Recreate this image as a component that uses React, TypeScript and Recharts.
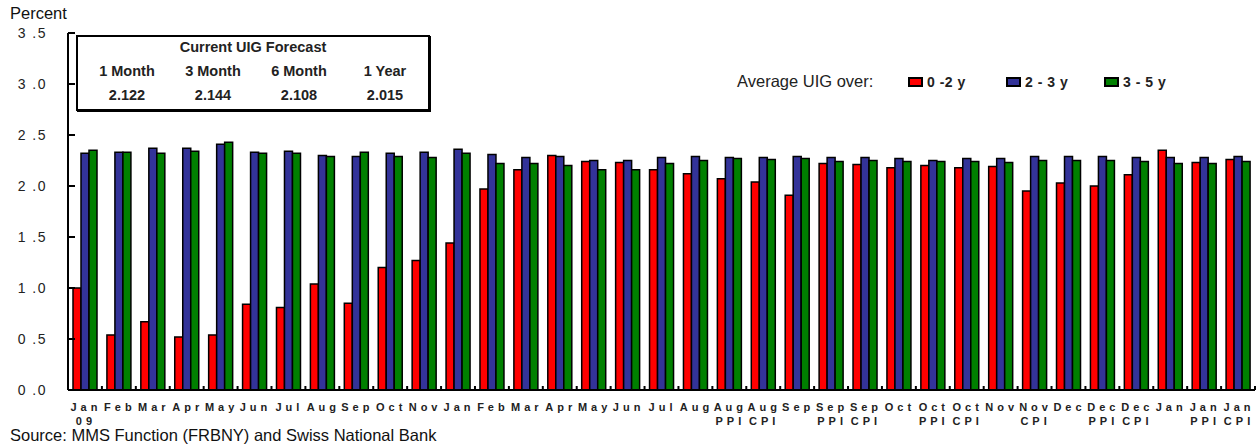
import { BarChart, Bar, XAxis, YAxis } from "recharts";

const FONT = "Arial, 'Liberation Sans', sans-serif";

// x-axis labels, two lines
const labelTop = [
  "Jan", "Feb", "Mar", "Apr", "May", "Jun", "Jul", "Aug", "Sep", "Oct", "Nov",
  "Jan", "Feb", "Mar", "Apr", "May", "Jun", "Jul", "Aug", "Aug", "Aug",
  "Sep", "Sep", "Sep", "Oct", "Oct", "Oct", "Nov", "Nov",
  "Dec", "Dec", "Dec", "Jan", "Jan", "Jan",
];
const labelBottom = [
  "09", "", "", "", "", "", "", "", "", "", "",
  "", "", "", "", "", "", "", "", "PPI", "CPI",
  "", "PPI", "CPI", "", "PPI", "CPI", "", "CPI",
  "", "PPI", "CPI", "", "PPI", "CPI",
];

const uig0to2 = [
  1.0, 0.54, 0.67, 0.52, 0.54, 0.84, 0.81, 1.04, 0.85, 1.2, 1.27,
  1.44, 1.97, 2.16, 2.3, 2.24, 2.23, 2.16, 2.12, 2.07, 2.04,
  1.91, 2.22, 2.21, 2.18, 2.2, 2.18, 2.19, 1.95,
  2.03, 2.0, 2.11, 2.35, 2.23, 2.26,
];
const uig2to3 = [
  2.32, 2.33, 2.37, 2.37, 2.41, 2.33, 2.34, 2.3, 2.29, 2.32, 2.33,
  2.36, 2.31, 2.28, 2.29, 2.25, 2.25, 2.28, 2.29, 2.28, 2.28,
  2.29, 2.28, 2.28, 2.27, 2.25, 2.27, 2.27, 2.29,
  2.29, 2.29, 2.28, 2.28, 2.28, 2.29,
];
const uig3to5 = [
  2.35, 2.33, 2.32, 2.34, 2.43, 2.32, 2.32, 2.29, 2.33, 2.29, 2.28,
  2.32, 2.22, 2.22, 2.2, 2.16, 2.16, 2.22, 2.25, 2.27, 2.26,
  2.27, 2.24, 2.25, 2.24, 2.24, 2.24, 2.23, 2.25,
  2.25, 2.25, 2.24, 2.22, 2.22, 2.24,
];

const yTicks = [0, 0.5, 1, 1.5, 2, 2.5, 3, 3.5];

const forecastHeads = ["1 Month", "3 Month", "6 Month", "1 Year"];
const forecastValues = ["2.122", "2.144", "2.108", "2.015"];

const SERIES = [
  { key: "a", name: "0 -2 y", color: "#ff0000" },
  { key: "b", name: "2 - 3 y", color: "#333399" },
  { key: "c", name: "3 - 5 y", color: "#008000" },
];

const data = labelTop.map((t, i) => ({
  id: String(i),
  top: t,
  bottom: labelBottom[i],
  a: uig0to2[i],
  b: uig2to3[i],
  c: uig3to5[i],
}));

// eslint-disable-next-line @typescript-eslint/no-explicit-any
function XTick({ x, y, payload, index }: any) {
  const d = data[index] ?? data[Number(payload.value)];
  const half = payload.offset ?? 17;
  const txt = { textAnchor: "middle" as const, fontSize: 11, fontWeight: "bold", fill: "#222", fontFamily: FONT, letterSpacing: 4 };
  return (
    <g>
      <rect x={x + half - 1} y={y - 6} width={2} height={4} fill="#000" />
      <text x={x + 1} y={y + 19} {...txt}>
        {d.top}
      </text>
      {d.bottom && (
        <text x={x + 1} y={y + 33} {...txt}>
          {d.bottom}
        </text>
      )}
    </g>
  );
}

// eslint-disable-next-line @typescript-eslint/no-explicit-any
function YTick({ x, y, payload }: any) {
  const v = Number(payload.value).toFixed(1).replace(".", " .");
  return (
    <g>
      <line x1={x + 18} x2={x + 25} y1={y} y2={y} stroke="#000" strokeWidth={2} />
      <text x={x - 3} y={y + 5} textAnchor="end" fontSize={14} letterSpacing={1.5} fill="#222" fontFamily={FONT}>
        {v}
      </text>
    </g>
  );
}

export default function App() {
  return (
    <div style={{ position: "absolute", left: 0, top: 0, width: 1260, height: 444, background: "#fff", fontFamily: FONT }}>
      <BarChart
        width={1260}
        height={444}
        data={data}
        margin={{ top: 33, right: 5, left: 0, bottom: 14 }}
        barGap={0}
        barSize={8}
      >
        <XAxis
          dataKey="id"
          interval={0}
          tick={<XTick />}
          tickLine={false}
          axisLine={{ stroke: "#000", strokeWidth: 2 }}
          height={40}
          tickSize={0}
        />
        <XAxis
          xAxisId="top"
          orientation="top"
          dataKey="id"
          tick={false}
          tickLine={false}
          axisLine={{ stroke: "#000", strokeWidth: 2 }}
          height={0}
        />
        <YAxis
          domain={[0, 3.5]}
          ticks={yTicks}
          interval={0}
          width={68}
          tick={<YTick />}
          tickLine={false}
          tickSize={6}
          tickMargin={12}
          axisLine={{ stroke: "#000", strokeWidth: 2 }}
        />
        <YAxis
          yAxisId="right"
          orientation="right"
          domain={[0, 3.5]}
          width={0}
          tick={false}
          tickLine={false}
          axisLine={{ stroke: "#000", strokeWidth: 2 }}
        />
        {SERIES.map((s) => (
          <Bar
            key={s.key}
            dataKey={s.key}
            name={s.name}
            fill={s.color}
            stroke="#000"
            strokeWidth={1.5}
            isAnimationActive={false}
          />
        ))}
      </BarChart>

      <div style={{ position: "absolute", left: 10, top: 4, fontSize: 16.5, color: "#111" }}>Percent</div>
      <div style={{ position: "absolute", left: 10, top: 426, fontSize: 16.5, color: "#111" }}>
        Source: MMS Function (FRBNY) and Swiss National Bank
      </div>

      <div
        style={{
          position: "absolute",
          left: 76,
          top: 35,
          width: 350,
          height: 72,
          border: "2px solid #000",
          boxShadow: "1px 1px 0 #000",
          background: "#fff",
          fontWeight: "bold",
          fontSize: 14.5,
          color: "#222",
        }}
      >
        <div style={{ textAlign: "center", marginTop: 2 }}>Current UIG Forecast</div>
        <div style={{ display: "flex", marginTop: 8, paddingLeft: 6 }}>
          {forecastHeads.map((h) => (
            <div key={h} style={{ flex: 1, textAlign: "center" }}>{h}</div>
          ))}
        </div>
        <div style={{ display: "flex", marginTop: 8, paddingLeft: 6 }}>
          {forecastValues.map((v, i) => (
            <div key={i} style={{ flex: 1, textAlign: "center" }}>{v}</div>
          ))}
        </div>
      </div>

      <div style={{ position: "absolute", left: 737, top: 72, display: "flex", alignItems: "center", fontSize: 16.5, color: "#222" }}>
        <span style={{ width: 171 }}>Average UIG over:</span>
        {SERIES.map((s) => (
          <span key={s.key} style={{ display: "flex", alignItems: "center", width: 98 }}>
            <span style={{ width: 11, height: 6, background: s.color, border: "2px solid #000", marginRight: 4 }} />
            <span style={{ fontWeight: "bold", fontSize: 14, letterSpacing: 0.5 }}>{s.name}</span>
          </span>
        ))}
      </div>
    </div>
  );
}
